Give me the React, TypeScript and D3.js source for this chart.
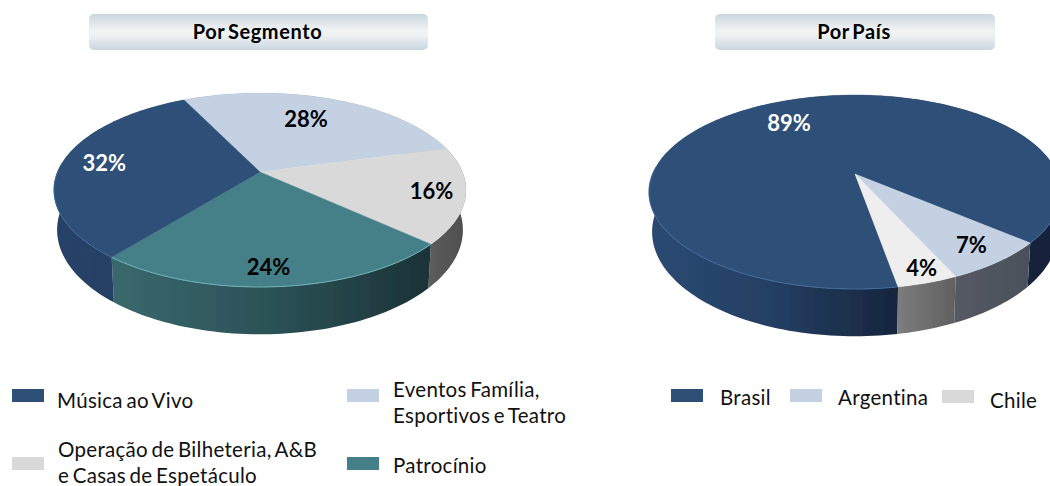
import React, { useEffect, useRef } from 'react';
import * as d3 from 'd3';

// Por Segmento (clockwise, starting at the light slice)
const segmentLabels = ['Eventos Família, Esportivos e Teatro', 'Operação de Bilheteria, A&B e Casas de Espetáculo', 'Patrocínio', 'Música ao Vivo'];
const segmentValues = [28, 16, 24, 32];
const segmentColors = ['#C3D1E3', '#D9D9D9', '#458088', '#2E5077'];
const segmentText = ['#000', '#000', '#000', '#fff'];
const segmentLabelRadius = [0.68, 0.84, 0.855, 0.79];
const segmentLabelShift = [-2.5, 0, 2, 1];
const segmentWalls = [
  [[0, '#8a94a3'], [1, '#8a94a3']],
  [[0.85, '#666'], [1, '#4e4e4e']],
  [[0.12, '#3a6a6e'], [0.55, '#2a5055'], [0.92, '#1b3237']],
  [[0, '#274369'], [0.2, '#243e61']],
];
const segmentRims = ['none', 'none', '#6fb2b8', '#3c6799'];

// Por País (clockwise, starting at Brasil)
const countryLabels = ['Brasil', 'Argentina', 'Chile'];
const countryValues = [89, 7, 4];
const countryColors = ['#2E5077', '#C3D1E3', '#EEEEEE'];
const countryText = ['#fff', '#000', '#000'];
const countryLabelRadius = [0.71, 0.837, 0.89];
const countryLabelShift = [-1, 0, -1];
const countryWalls = [
  [[0, '#2b4a72'], [0.3, '#243f63'], [0.6, '#16263e'], [1, '#14233a']],
  [[0.7, '#565c66'], [0.93, '#4b505a']],
  [[0.6, '#7d7d7d'], [0.75, '#5f5f5f']],
];
const countryRims = ['#40699b', 'none', 'none'];

const FONT = 'Lato, Carlito, sans-serif';
const K = 0.186; // perspective tilt of the disc
const DEPTH = 38.5;
const RAD = Math.PI / 180;

type PieProps = {
  id: string;
  cx: number;
  cy: number;
  start: number;
  values: number[];
  colors: string[];
  textColors: string[];
  labelRadius: number[];
  labelShift: number[];
  walls: any[];
  rims: string[];
};

const drawPie = (svg: any, p: PieProps) => {
  const A = 93.6;
  const B = 202.4;
  const project = (a: number, r = 1) => {
    const X = r * Math.sin(a);
    const Y = -r * Math.cos(a);
    const w = 1 - K * Y;
    return { x: p.cx + (B * X) / w, y: p.cy + (A * Y) / w, w };
  };
  const top = (a: number): [number, number] => {
    const q = project(a);
    return [q.x, q.y];
  };
  const bottom = (a: number): [number, number] => {
    const q = project(a);
    return [p.cx + (q.x - p.cx) * 0.985, q.y + DEPTH / q.w];
  };
  const sample = (a0: number, a1: number) => {
    const n = Math.max(2, Math.ceil(Math.abs(a1 - a0) * 40));
    return d3.range(n + 1).map(i => a0 + ((a1 - a0) * i) / n);
  };

  const pie = d3.pie<number>().sort(null).startAngle(p.start).endAngle(p.start + Math.PI * 2);
  const arcs = pie(p.values);
  const line = d3.line();
  const defs = svg.append('defs');
  const g = svg.append('g').attr('filter', 'url(#soft)');

  // side walls go first, the top face hides the back half
  arcs.forEach((d, i) => {
    const gradId = `${p.id}-wall-${i}`;
    const grad = defs.append('linearGradient')
      .attr('id', gradId)
      .attr('gradientUnits', 'userSpaceOnUse')
      .attr('x1', p.cx - 206).attr('x2', p.cx + 206)
      .attr('y1', 0).attr('y2', 0);
    p.walls[i].forEach((s: any) => grad.append('stop').attr('offset', s[0]).attr('stop-color', s[1]));
    const angles = sample(d.startAngle, d.endAngle);
    const pts = [...angles.map(top), ...angles.slice().reverse().map(bottom)];
    g.append('path').attr('d', line(pts) + 'Z').attr('fill', `url(#${gradId})`);
  });

  // top face
  arcs.forEach((d, i) => {
    const pts = [[p.cx, p.cy] as [number, number], ...sample(d.startAngle, d.endAngle).map(top)];
    g.append('path')
      .attr('d', line(pts) + 'Z')
      .attr('fill', p.colors[i])
      .attr('stroke', p.colors[i])
      .attr('stroke-width', 0.4);
  });

  // thin bright edge where the front rim catches the light
  const rimLine = d3.line<number>()
    .defined(a => Math.cos(a) < 0.1)
    .x(a => top(a)[0])
    .y(a => top(a)[1]);
  arcs.forEach((d, i) => {
    if (p.rims[i] === 'none') return;
    g.append('path')
      .attr('d', rimLine(sample(d.startAngle, d.endAngle)))
      .attr('fill', 'none')
      .attr('stroke', p.rims[i])
      .attr('stroke-width', 1);
  });

  // percentages
  arcs.forEach((d, i) => {
    const q = project((d.startAngle + d.endAngle) / 2 + p.labelShift[i] * RAD, p.labelRadius[i]);
    svg.append('text')
      .attr('x', q.x).attr('y', q.y)
      .attr('dy', '0.36em')
      .attr('text-anchor', 'middle')
      .attr('font-family', FONT)
      .attr('font-weight', 700)
      .attr('font-size', 22)
      .attr('fill', p.textColors[i])
      .text(`${d.data}%`);
  });
};

const header = (svg: any, x: number, w: number, label: string) => {
  svg.append('rect')
    .attr('x', x).attr('y', 14)
    .attr('width', w).attr('height', 36)
    .attr('rx', 5)
    .attr('fill', 'url(#headerFill)');
  svg.append('text')
    .attr('x', x + w / 2 - 1).attr('y', 39)
    .attr('text-anchor', 'middle')
    .attr('font-family', FONT)
    .attr('font-weight', 700)
    .attr('font-size', 20)
    .attr('letter-spacing', 0.6)
    .attr('word-spacing', -2.5)
    .attr('fill', '#000')
    .text(label);
};

const legendEntry = (svg: any, sx: number, sy: number, color: string, tx: number, lines: string[], baselines: number[]) => {
  svg.append('rect').attr('x', sx).attr('y', sy).attr('width', 32).attr('height', 13).attr('fill', color);
  lines.forEach((t, i) => {
    svg.append('text')
      .attr('x', tx).attr('y', baselines[i])
      .attr('font-family', FONT)
      .attr('font-size', 20.5)
      .attr('letter-spacing', 0.3)
      .attr('word-spacing', -2)
      .attr('fill', '#111')
      .text(t);
  });
};

export default function App() {
  const ref = useRef<SVGSVGElement>(null);

  useEffect(() => {
    const svg = d3.select(ref.current);
    svg.selectAll('*').remove();

    const defs = svg.append('defs');
    const hf = defs.append('linearGradient').attr('id', 'headerFill').attr('x1', 0).attr('x2', 0).attr('y1', 0).attr('y2', 1);
    hf.append('stop').attr('offset', 0).attr('stop-color', '#C9D6DE');
    hf.append('stop').attr('offset', 0.45).attr('stop-color', '#F1F3F3');
    hf.append('stop').attr('offset', 0.6).attr('stop-color', '#EEF1F2');
    hf.append('stop').attr('offset', 1).attr('stop-color', '#C9D6E0');
    defs.append('filter').attr('id', 'soft').append('feGaussianBlur').attr('stdDeviation', 0.5);

    header(svg, 89, 339, 'Por Segmento');
    header(svg, 715, 280, 'Por País');

    drawPie(svg, {
      id: 'seg', cx: 260, cy: 172, start: -26 * RAD,
      values: segmentValues, colors: segmentColors, textColors: segmentText,
      labelRadius: segmentLabelRadius, labelShift: segmentLabelShift, walls: segmentWalls, rims: segmentRims,
    });
    drawPie(svg, {
      id: 'pais', cx: 855, cy: 174, start: 170 * RAD,
      values: countryValues, colors: countryColors, textColors: countryText,
      labelRadius: countryLabelRadius, labelShift: countryLabelShift, walls: countryWalls, rims: countryRims,
    });

    legendEntry(svg, 12, 389, segmentColors[3], 57, [segmentLabels[3]], [408]);
    legendEntry(svg, 347, 389, segmentColors[0], 393, ['Eventos Família,', 'Esportivos e Teatro'], [397, 423]);
    legendEntry(svg, 12, 457, segmentColors[1], 58, ['Operação de Bilheteria, A&B', 'e Casas de Espetáculo'], [457, 483]);
    legendEntry(svg, 347, 457, segmentColors[2], 393, [segmentLabels[2]], [473]);

    legendEntry(svg, 671, 389, '#2E5077', 720, [countryLabels[0]], [405]);
    legendEntry(svg, 790, 389, '#C3D1E3', 838, [countryLabels[1]], [405]);
    legendEntry(svg, 942, 390, '#D9D9D9', 990, [countryLabels[2]], [408]);
  }, []);

  return <svg ref={ref} width={1050} height={486} style={{ position: 'absolute', left: 0, top: 0, background: '#fff' }} />;
}
